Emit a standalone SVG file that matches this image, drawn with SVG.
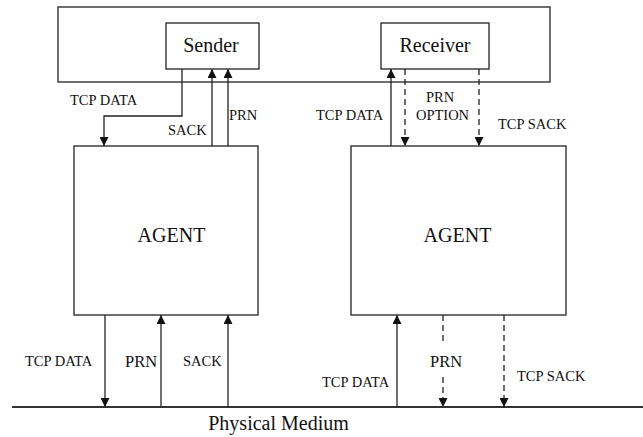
<svg xmlns="http://www.w3.org/2000/svg" width="643" height="437" viewBox="0 0 643 437">
  <style>
    .box { fill: #fff; stroke: #222; stroke-width: 1.3; }
    .ln { fill: none; stroke: #222; stroke-width: 1.3; }
    .dash { stroke-dasharray: 6 4; }
    .big { font-family: "Liberation Serif", "Times New Roman", serif; font-size: 20px; fill: #111; }
    .lbl { font-family: "Liberation Serif", "Times New Roman", serif; font-size: 14.5px; fill: #111; }
    .mid { font-family: "Liberation Serif", "Times New Roman", serif; font-size: 16.5px; fill: #111; }
  </style>
  <defs>
    <marker id="arrow" viewBox="0 0 10 10" refX="10" refY="5" markerWidth="9" markerHeight="9" markerUnits="userSpaceOnUse" orient="auto">
      <path d="M0,0 L10,5 L0,10 Z" fill="#111"/>
    </marker>
  </defs>
  <rect width="643" height="437" fill="#fff"/>

  <!-- host container -->
  <g id="host">
    <rect class="box" x="58" y="7" width="492" height="75"/>
  </g>
  <g id="sender">
    <rect class="box" x="166" y="23" width="93" height="46"/>
    <text class="big" x="211" y="52" text-anchor="middle">Sender</text>
  </g>
  <g id="receiver">
    <rect class="box" x="381" y="23" width="108" height="46"/>
    <text class="big" x="435" y="52" text-anchor="middle">Receiver</text>
  </g>
  <g id="agent-left">
    <rect class="box" x="74" y="146" width="184" height="169"/>
    <text class="big" x="171.5" y="242" text-anchor="middle">AGENT</text>
  </g>
  <g id="agent-right">
    <rect class="box" x="351" y="146" width="215" height="169"/>
    <text class="big" x="457.5" y="242" text-anchor="middle">AGENT</text>
  </g>
  <g id="medium">
    <line x1="12" y1="407" x2="643" y2="407" stroke="#333" stroke-width="2"/>
    <text class="big" x="278.5" y="430" text-anchor="middle">Physical Medium</text>
  </g>

  <!-- connectors -->
  <g id="connectors">
    <!-- sender side -->
    <path class="ln" d="M182,69 V116 H104 V146" marker-end="url(#arrow)"/>
    <line class="ln" x1="212" y1="146" x2="212" y2="69" marker-end="url(#arrow)"/>
    <line class="ln" x1="228" y1="146" x2="228" y2="69" marker-end="url(#arrow)"/>
    <!-- receiver side -->
    <line class="ln" x1="391" y1="146" x2="391" y2="69" marker-end="url(#arrow)"/>
    <line class="ln dash" x1="405" y1="69" x2="405" y2="146" marker-end="url(#arrow)"/>
    <line class="ln dash" x1="479" y1="69" x2="479" y2="146" marker-end="url(#arrow)"/>
    <!-- left agent to medium -->
    <line class="ln" x1="105" y1="315" x2="105" y2="407" marker-end="url(#arrow)"/>
    <line class="ln" x1="161" y1="407" x2="161" y2="315" marker-end="url(#arrow)"/>
    <line class="ln" x1="228" y1="407" x2="228" y2="315" marker-end="url(#arrow)"/>
    <!-- right agent to medium -->
    <line class="ln" x1="397" y1="407" x2="397" y2="315" marker-end="url(#arrow)"/>
    <line class="ln dash" x1="443" y1="315" x2="443" y2="345"/>
    <line class="ln dash" x1="443" y1="377" x2="443" y2="407" marker-end="url(#arrow)"/>
    <line class="ln dash" x1="504" y1="315" x2="504" y2="407" marker-end="url(#arrow)"/>
  </g>

  <!-- connector labels -->
  <g id="labels">
    <text class="lbl" x="70" y="105">TCP DATA</text>
    <text class="lbl" x="168" y="135">SACK</text>
    <text class="lbl" x="229" y="120">PRN</text>
    <text class="lbl" x="316" y="120">TCP DATA</text>
    <text class="lbl" x="440" y="102" text-anchor="middle">PRN</text>
    <text class="lbl" x="442.5" y="120" text-anchor="middle">OPTION</text>
    <text class="lbl" x="498" y="129">TCP SACK</text>
    <text class="lbl" x="25" y="366">TCP DATA</text>
    <text class="mid" x="125" y="367">PRN</text>
    <text class="lbl" x="183" y="366">SACK</text>
    <text class="lbl" x="322" y="387">TCP DATA</text>
    <text class="mid" x="430" y="367">PRN</text>
    <text class="lbl" x="517" y="381">TCP SACK</text>
  </g>
</svg>
